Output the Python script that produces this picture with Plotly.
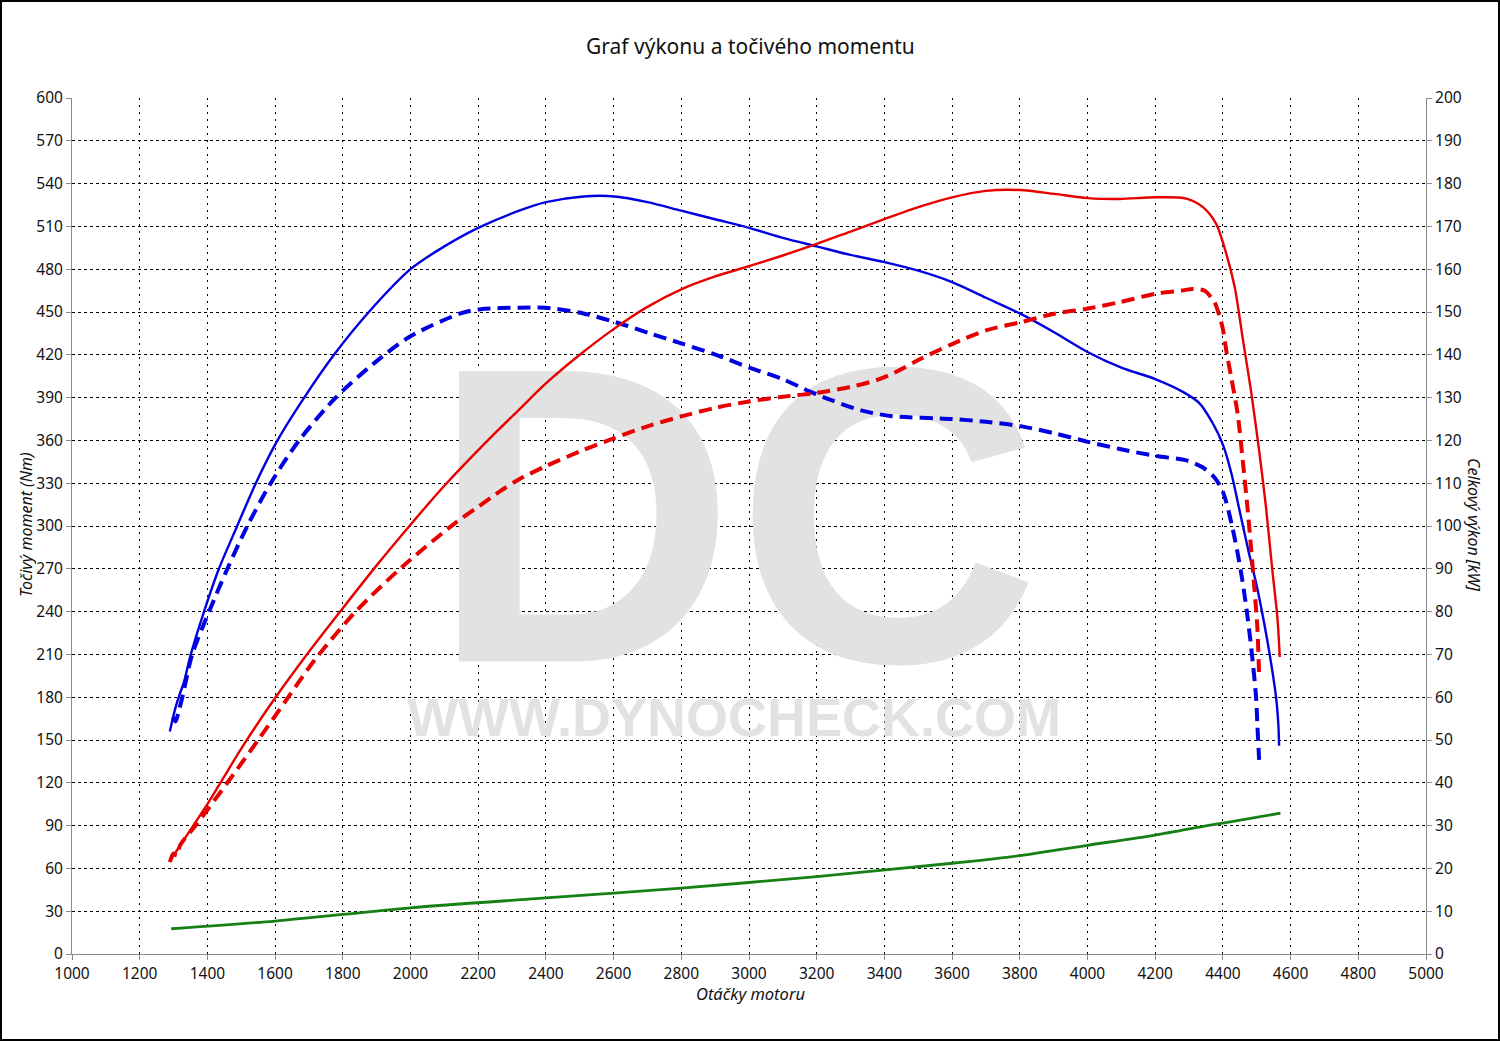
import plotly.graph_objects as go

# ---- data ----
rpm_torque_tuned = [1289, 1305, 1318, 1330, 1351, 1390, 1434, 1488, 1543, 1607, 1686, 1774, 1877, 2000, 2100, 2200, 2321,
                    2400, 2511, 2604, 2700, 2800, 2900, 3000, 3100, 3200, 3300, 3400, 3500, 3600, 3700, 3800, 3900, 4000, 4100,
                    4200, 4282, 4331, 4370, 4400, 4425, 4450, 4475, 4500, 4525, 4545, 4558, 4564, 4566]
torque_tuned = [156, 172, 182, 190, 210, 240, 270, 300, 330, 360, 390, 420, 450, 480, 496, 509, 521,
                527, 531, 531, 527, 521, 515, 509, 502, 496, 490, 485, 479, 471, 460, 449, 436, 422, 411,
                403, 394, 386, 372, 357, 337, 310, 283, 258, 228, 200, 178, 160, 146]

rpm_torque_stock = [1298, 1306, 1315, 1326, 1355, 1405, 1459, 1518, 1587, 1671, 1779, 1892, 2000, 2148, 2207,
                    2321, 2400, 2511, 2604, 2707, 2800, 2903, 3001, 3099, 3182, 3246, 3331, 3422, 3600, 3700, 3802, 3902,
                    4001, 4095, 4203, 4292, 4341, 4375, 4400, 4429, 4454, 4473, 4488, 4498, 4502, 4507]
torque_stock = [166, 163, 170, 180, 210, 240, 270, 300, 330, 360, 390, 414, 433, 449, 452,
                453, 453, 449, 443, 435, 428, 420, 411, 403, 394, 388, 381, 377, 375, 373, 370, 365,
                359, 354, 349, 346, 341, 334, 324, 298, 267, 236, 205, 180, 160, 136]

rpm_power_tuned = [1289, 1300, 1350, 1400, 1450, 1500, 1600, 1700, 1800, 1900, 2000, 2100, 2232, 2321, 2400, 2500, 2600,
                   2700, 2800, 2900, 3000, 3100, 3200, 3300, 3400, 3500, 3600, 3700, 3800, 3902, 4001, 4095, 4203, 4292,
                   4341, 4380, 4410, 4435, 4459, 4483, 4507, 4527, 4546, 4561, 4568]
power_tuned = [21.5, 23, 29, 35, 41.5, 48, 59.8, 70.6, 80.8, 90.8, 100.3, 109.4, 120.3, 127.2, 133.3, 140, 146,
               151.2, 155.3, 158.3, 160.7, 163.2, 165.9, 168.8, 171.7, 174.5, 176.8, 178.3, 178.5, 177.6, 176.6, 176.4, 176.8, 176.5,
               174.5, 170.6, 163.6, 155.8, 143.6, 131.6, 117.6, 104.6, 89.7, 78.6, 69.4]

rpm_power_stock = [1289, 1300, 1310, 1320, 1365, 1459, 1550, 1630, 1720, 1838, 1976, 2129, 2200, 2266, 2321, 2400, 2500,
                   2600, 2700, 2800, 2900, 3000, 3100, 3200, 3300, 3385, 3442, 3500, 3600, 3700, 3802, 3902, 4001, 4095,
                   4203, 4278, 4311, 4345, 4375, 4390, 4400, 4410, 4424, 4444, 4459, 4473, 4483, 4493, 4502, 4507]
power_stock = [21.5, 23.5, 23, 25.5, 30, 40, 50, 59, 69, 80, 90.5, 100.5, 104.5, 108.2, 110.9, 114, 117.4,
               120.5, 123.3, 125.6, 127.6, 129.1, 130.2, 131.1, 132.5, 134.3, 136.3, 138.8, 142.5, 145.7, 147.6, 149.6, 150.8, 152.3,
               154.3, 155, 155.4, 155, 152.3, 149, 146, 141, 135, 126, 115, 104, 95, 85.5, 76, 65]

rpm_loss = [1293, 1600, 2000, 2400, 2800, 3200, 3600, 3800, 4000, 4200, 4354, 4400, 4570]
power_loss = [5.9, 7.7, 10.8, 13.1, 15.4, 18.1, 21.2, 23.0, 25.4, 27.8, 30.0, 30.6, 32.9]

x_ticks = list(range(1000, 5001, 200))
y_ticks = list(range(0, 601, 30))
y2_ticks = list(range(0, 201, 10))

title_text = "Graf výkonu a točivého momentu"
x_title = "Otáčky motoru"
y_title = "Točivý moment (Nm)"
y2_title = "Celkový výkon [kW]"
watermark_big = "DC"
watermark_small = "WWW.DYNOCHECK.COM"

BLUE = "#0000e0"
RED = "#e80000"
GREEN = "#168016"
WM = "#e2e2e2"
FONT = "Noto Sans, Open Sans, DejaVu Sans, sans-serif"

fig = go.Figure()

# watermark (behind curves)
fig.add_trace(go.Scatter(x=[2960], y=[279], mode="text", text=[watermark_big],
                         textfont=dict(family="Liberation Sans, Arial, sans-serif", size=422, color=WM, weight="bold"),
                         hoverinfo="skip", showlegend=False))
fig.add_trace(go.Scatter(x=[2956], y=[162.5], mode="text", text=[watermark_small],
                         textfont=dict(family="Liberation Sans, Arial, sans-serif", size=54, color=WM, weight="bold"),
                         hoverinfo="skip", showlegend=False))

SM = 0.8
fig.add_trace(go.Scatter(x=rpm_loss, y=power_loss, mode="lines", yaxis="y2",
                         line=dict(color=GREEN, width=2.8, shape="spline", smoothing=SM), showlegend=False))
fig.add_trace(go.Scatter(x=rpm_power_stock, y=power_stock, mode="lines", yaxis="y2",
                         line=dict(color=RED, width=4, dash="13px,7px", shape="spline", smoothing=SM), showlegend=False))
fig.add_trace(go.Scatter(x=rpm_torque_stock, y=torque_stock, mode="lines",
                         line=dict(color=BLUE, width=4, dash="13px,7px", shape="spline", smoothing=SM), showlegend=False))
fig.add_trace(go.Scatter(x=rpm_power_tuned, y=power_tuned, mode="lines", yaxis="y2",
                         line=dict(color=RED, width=2.4, shape="spline", smoothing=SM), showlegend=False))
fig.add_trace(go.Scatter(x=rpm_torque_tuned, y=torque_tuned, mode="lines",
                         line=dict(color=BLUE, width=2.4, shape="spline", smoothing=SM), showlegend=False))

L, R, T, B = 72, 74, 98, 87
W, H = 1500, 1041
pw, ph = W - L - R, H - T - B

axis_common = dict(showline=True, linecolor="#8a8a8a", linewidth=1, ticks="outside", ticklen=5,
                   tickcolor="#8a8a8a", tickfont=dict(family=FONT, size=15.5, color="#111"), zeroline=False)

fig.update_layout(
    width=W, height=H,
    margin=dict(l=L, r=R, t=T, b=B),
    paper_bgcolor="white", plot_bgcolor="white",
    showlegend=False,
    xaxis=dict(range=[1000, 5000], tickvals=x_ticks, showgrid=True, gridcolor="#000", gridwidth=1,
               griddash="2px,5px", **axis_common),
    yaxis=dict(range=[0, 600], tickvals=y_ticks, showgrid=True, gridcolor="#000", gridwidth=1,
               griddash="3px,3px", **axis_common),
    yaxis2=dict(range=[0, 200], tickvals=y2_ticks, overlaying="y", side="right", showgrid=False, **axis_common),
    annotations=[
        dict(text=title_text, xref="paper", yref="paper", x=(750 - L) / pw, y=1 + (T - 46) / ph, showarrow=False,
             xanchor="center", yanchor="middle", font=dict(family=FONT, size=21, color="#111")),
        dict(text="<i>" + x_title + "</i>", xref="paper", yref="paper", x=(750 - L) / pw, y=-(993 - (H - B)) / ph,
             showarrow=False, xanchor="center", yanchor="middle", font=dict(family=FONT, size=16.5, color="#111")),
        dict(text="<i>" + y_title + "</i>", xref="paper", yref="paper", x=(26 - L) / pw, y=((H - B) - 524) / ph,
             showarrow=False, textangle=-90, xanchor="center", yanchor="middle",
             font=dict(family=FONT, size=16, color="#111")),
        dict(text="<i>" + y2_title + "</i>", xref="paper", yref="paper", x=(1474 - L) / pw, y=((H - B) - 524) / ph,
             showarrow=False, textangle=90, xanchor="center", yanchor="middle",
             font=dict(family=FONT, size=16, color="#111")),
    ],
    shapes=[
        dict(type="rect", xref="paper", yref="paper",
             x0=-(L - 1) / pw, x1=1 + (R - 1) / pw, y0=-(B - 1) / ph, y1=1 + (T - 1) / ph,
             line=dict(color="#000", width=2), fillcolor="rgba(0,0,0,0)", layer="above"),
    ],
)

fig.write_html("out.html", config={"displayModeBar": False},
               post_script="document.body.style.margin='0px';document.body.style.overflow='hidden';")
